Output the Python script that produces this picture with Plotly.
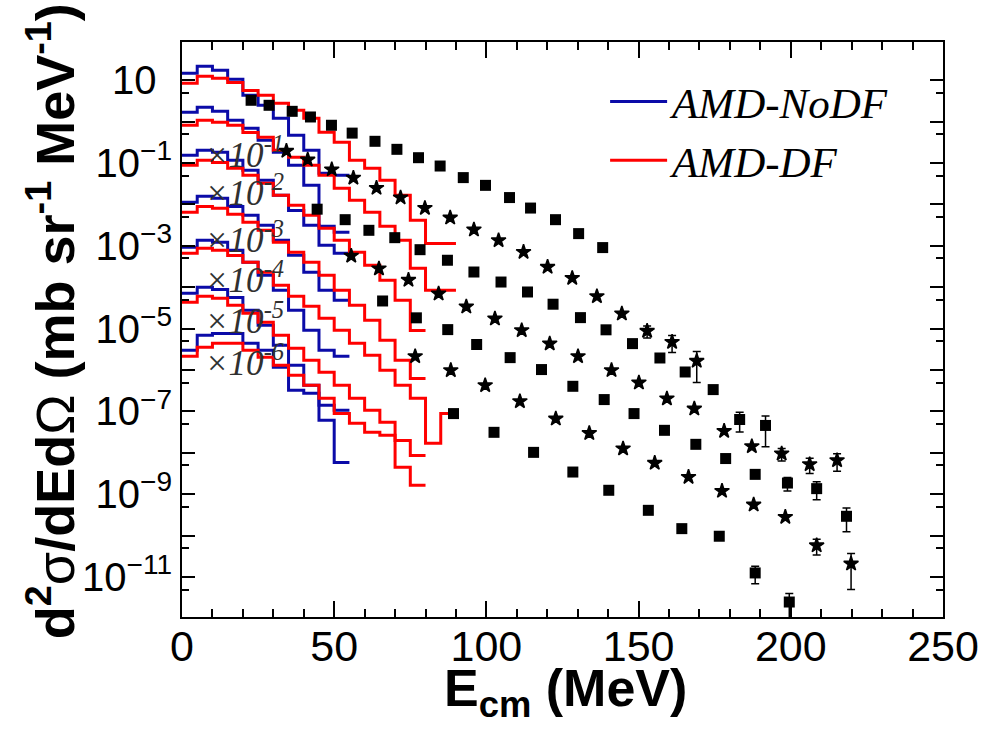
import plotly.graph_objects as go

# ---------------- data ----------------
bin_width = 5.0  # MeV, AMD histograms
scale_exp = [0, -1, -2, -3, -4, -5, -6]

# experimental points (unscaled values), x in MeV
exp_x_1 = [22.7, 28.6, 36.2, 42.2, 49.1, 55.9, 63.4, 70.6, 77.7, 84.8, 92.4, 99.7, 107.6, 114.5, 122.7, 130.3, 138.2]
exp_y_1 = [3.29, 2.49, 1.78, 1.30, 0.82, 0.53, 0.336, 0.215, 0.135, 0.085, 0.0446, 0.0290, 0.0147, 0.0082, 0.0043, 0.00198, 9.1e-4]
exp_e_1 = [0] * 17

exp_x_2 = [34.3, 41.3, 49.2, 56.3, 63.9, 71.8, 79.8, 88.1, 95.9, 104.0, 112.2, 120.1, 128.2, 136.3, 144.5, 152.8, 161.0, 169.1]
exp_y_2 = [1.96, 1.21, 0.70, 0.44, 0.25, 0.147, 0.082, 0.048, 0.0247, 0.0136, 0.0071, 0.0031, 0.00167, 6.05e-4, 2.31e-4, 8.8e-5, 4.76e-5, 1.66e-5]
exp_e_2 = [0] * 15 + [2.8e-5, 2.1e-5, 1.16e-5]

exp_x_3 = [44.4, 53.6, 61.4, 69.9, 78.2, 87.2, 95.9, 104.8, 113.5, 121.9, 130.9, 139.3, 148.0, 157.0, 165.3, 174.5, 183.2, 191.7]
exp_y_3 = [0.77, 0.43, 0.238, 0.158, 0.081, 0.045, 0.0234, 0.0134, 0.0077, 0.0039, 0.00185, 9.4e-4, 4.36e-4, 1.96e-4, 9.0e-5, 3.38e-5, 6.4e-6, 4.6e-6]
exp_e_3 = [0] * 16 + [3.2e-6, 3.2e-6]

exp_x_4 = [55.6, 64.7, 74.4, 84.3, 93.4, 102.8, 111.6, 120.8, 130.1, 141.1, 150.1, 159.3, 168.3, 178.1, 187.2, 197.0, 206.2, 215.2]
exp_y_4 = [0.575, 0.283, 0.150, 0.0703, 0.0341, 0.0175, 0.00914, 0.00436, 0.00215, 9.9e-4, 4.98e-4, 2.05e-4, 1.17e-4, 3.37e-5, 1.44e-5, 9.6e-6, 5.3e-6, 6.6e-6]
exp_e_4 = [0] * 15 + [3.2e-6, 2.1e-6, 3.0e-6]

exp_x_5 = [65.9, 77.0, 87.3, 96.8, 107.8, 118.1, 128.4, 138.7, 148.5, 158.5, 168.8, 178.6, 188.3, 198.9, 208.5, 218.3]
exp_y_5 = [0.467, 0.183, 0.095, 0.0415, 0.0200, 0.0103, 0.00406, 0.00194, 8.9e-4, 3.51e-4, 1.61e-4, 7.3e-5, 3.03e-5, 1.87e-5, 1.37e-5, 2.94e-6]
exp_e_5 = [0] * 13 + [6.7e-6, 6.3e-6, 1.7e-6]

exp_x_6 = [76.6, 88.3, 99.6, 111.0, 122.8, 133.8, 144.9, 155.3, 166.4, 177.4, 187.8, 198.2, 208.5, 219.8]
exp_y_6 = [0.215, 0.0989, 0.0429, 0.0176, 0.0067, 0.0030, 0.00127, 5.7e-4, 2.61e-4, 1.20e-4, 5.6e-5, 2.82e-5, 5.8e-6, 2.1e-6]
exp_e_6 = [0] * 12 + [2.4e-6, 1.6e-6]

exp_x_7 = [89.2, 102.5, 115.5, 128.4, 140.2, 153.2, 164.2, 176.5, 188.3, 199.5]
exp_y_7 = [0.089, 0.0314, 0.0103, 0.00345, 0.00125, 4.1e-4, 1.48e-4, 9.7e-5, 1.26e-5, 2.5e-6]
exp_e_7 = [0] * 8 + [5.7e-6, 1.5e-6]

# AMD-NoDF histograms (unscaled), 5 MeV bins from 0
nodf_1 = [14.8, 21.8, 17.4, 10.6, 4.34, 2.49, 1.21, 0.47, 0.204, 0.057, 0.051]
nodf_2 = [16.9, 22.3, 17.8, 10.8, 6.9, 3.55, 1.82, 0.885, 0.290, 0.0297, 0.0213]
nodf_3 = [15.4, 20.4, 18.2, 11.7, 6.7, 3.84, 1.67, 0.72, 0.314, 0.103, 0.066]
nodf_4 = [11.3, 15.8, 14.1, 9.0, 5.5, 3.14, 1.36, 0.593, 0.230, 0.0845, 0.0485]
nodf_5 = [9.25, 13.6, 12.2, 7.8, 4.0, 1.95, 0.845, 0.278, 0.0914, 0.030, 0.0215]
nodf_6 = [7.2, 10.0, 8.9, 5.7, 2.78, 1.21, 0.397, 0.131, 0.0429, 0.0141, 0.0107]
nodf_7 = [3.0, 6.9, 7.7, 7.7, 4.44, 3.0, 1.17, 0.325, 0.275, 0.0612, 0.0059]

# AMD-DF histograms (unscaled), 5 MeV bins from 0
df_1 = [8.45, 12.5, 11.2, 8.9, 5.7, 4.34, 2.78, 1.88, 1.21, 0.555, 0.318, 0.117, 0.075, 0.0384, 0.0167, 0.00415, 0.00115, 0.00115]
df_2 = [8.2, 10.8, 9.7, 8.2, 5.5, 4.2, 2.04, 1.38, 0.885, 0.507, 0.246, 0.126, 0.065, 0.0297, 0.0136, 0.00288, 8.45e-4, 8.45e-4]
df_3 = [8.85, 11.7, 10.4, 7.5, 5.1, 3.25, 1.67, 0.955, 0.548, 0.266, 0.136, 0.070, 0.034, 0.0148, 0.00485, 9.1e-4]
df_4 = [6.5, 9.0, 8.1, 5.8, 3.7, 2.38, 1.22, 0.70, 0.402, 0.195, 0.0845, 0.0367, 0.0160, 0.00524, 0.00172, 6.3e-4]
df_5 = [6.6, 8.75, 7.8, 5.9, 4.0, 2.30, 1.12, 0.607, 0.348, 0.178, 0.0914, 0.0444, 0.0228, 0.0099, 0.00429, 0.00208, 1.70e-4, 9.0e-4]
df_6 = [4.34, 6.1, 5.4, 3.67, 2.35, 1.43, 0.69, 0.336, 0.172, 0.0885, 0.0429, 0.0208, 0.0107, 0.0055, 0.0020, 8.7e-4]
df_7 = [2.15, 3.55, 4.44, 4.44, 3.0, 2.04, 1.31, 0.748, 0.429, 0.208, 0.090, 0.052, 0.0314, 0.0266, 0.00449, 0.00165]

exp_x = [exp_x_1, exp_x_2, exp_x_3, exp_x_4, exp_x_5, exp_x_6, exp_x_7]
exp_y = [exp_y_1, exp_y_2, exp_y_3, exp_y_4, exp_y_5, exp_y_6, exp_y_7]
exp_e = [exp_e_1, exp_e_2, exp_e_3, exp_e_4, exp_e_5, exp_e_6, exp_e_7]
nodf = [nodf_1, nodf_2, nodf_3, nodf_4, nodf_5, nodf_6, nodf_7]
df = [df_1, df_2, df_3, df_4, df_5, df_6, df_7]
exp_symbol = ["square", "star", "square", "star", "square", "star", "square"]

# label positions (pixel rows of the "x10^n" texts)
label_rows = [None, 152, 190, 237, 277, 318, 360]

# ---------------- figure ----------------
W, H = 991, 741
L_M, R_M, T_M, B_M = 182, 41, 42, 124
BLUE = "#0b0ba8"
RED = "#ff0000"

fig = go.Figure()


def hist_trace(vals, s, color, name, show):
    xs = [i * bin_width for i in range(len(vals) + 1)]
    ys = [v * s for v in vals] + [vals[-1] * s]
    return go.Scatter(x=xs, y=ys, mode="lines", name=name, showlegend=show,
                      line=dict(color=color, width=3, shape="hv"))


for k in range(7):
    s = 10.0 ** scale_exp[k]
    fig.add_trace(hist_trace(nodf[k], s, BLUE, "AMD-NoDF", k == 0))
    fig.add_trace(hist_trace(df[k], s, RED, "AMD-DF", k == 0))

for k in range(7):
    s = 10.0 ** scale_exp[k]
    ys = [v * s for v in exp_y[k]]
    es = [e * s for e in exp_e[k]]
    sym = exp_symbol[k]
    fig.add_trace(go.Scatter(
        x=exp_x[k], y=ys, mode="markers", showlegend=False, name="data",
        marker=dict(symbol=sym, size=11, color="black",
                    line=dict(width=0 if sym == "square" else 1.5, color="black")),
        error_y=dict(type="data", array=es, visible=True, color="black",
                     thickness=1.5, width=4)))

plot_h = H - T_M - B_M


def py_to_paper(py):
    return 1 - (py - T_M) / plot_h


def px_to_paper(px):
    return (px - L_M) / (W - L_M - R_M)


annotations = []
for k in range(1, 7):
    annotations.append(dict(
        x=px_to_paper(203), y=py_to_paper(label_rows[k]), xref="paper", yref="paper",
        xanchor="left", yanchor="middle", showarrow=False,
        text="×10<sup>-%d</sup>" % k,
        font=dict(family="Liberation Serif", size=35, color="#303030", style="italic")))

annotations.append(dict(
    x=px_to_paper(444), y=py_to_paper(692), xref="paper", yref="paper", xanchor="left",
    yanchor="middle", showarrow=False, text="<b>E</b><sub><b>cm</b></sub><b> (MeV)</b>",
    font=dict(family="Liberation Sans", size=52, color="black")))
annotations.append(dict(
    x=px_to_paper(50), y=py_to_paper(641), xref="paper", yref="paper", xanchor="center",
    yanchor="bottom", showarrow=False, textangle=-90,
    text="<b>d</b><sup><b>2</b></sup>σ<b>/dEd</b>Ω<b> (mb sr</b><sup><b>-1</b></sup><b> MeV</b><sup><b>-1</b></sup><b>)</b>",
    font=dict(family="Liberation Sans", size=54, color="black")))

ytick_exps = list(range(-11, 2))
ytick_vals = [10.0 ** e for e in ytick_exps]
ytick_text = []
for e in ytick_exps:
    if e == 1:
        ytick_text.append("10<sup>\u2007</sup>")
    elif e % 2 != 0:
        ytick_text.append("10<sup>\u2212%d</sup>" % (-e))
    else:
        ytick_text.append(" ")
yminor_vals = [5 * 10.0 ** e for e in range(-12, 1)]

fig.update_layout(
    width=W, height=H,
    margin=dict(l=L_M, r=R_M, t=T_M, b=B_M),
    paper_bgcolor="white", plot_bgcolor="white",
    font=dict(family="Liberation Sans", color="black"),
    annotations=annotations,
    legend=dict(x=px_to_paper(609), y=py_to_paper(67), xanchor="left", yanchor="top",
                bgcolor="rgba(0,0,0,0)", itemwidth=57,
                font=dict(family="Liberation Serif", size=43, style="italic", color="black")),
    xaxis=dict(range=[0, 250], dtick=50, tick0=0, ticks="inside", ticklen=16, tickwidth=1.5,
               tickcolor="black", showline=True, linecolor="black", linewidth=2, mirror="ticks",
               showgrid=False, zeroline=False, ticklabelstandoff=-10,
               tickfont=dict(family="Liberation Sans", size=43, color="black"),
               minor=dict(dtick=10, ticks="inside", ticklen=8, tickwidth=1.5, tickcolor="black",
                          showgrid=False)),
    yaxis=dict(type="log", range=[-11.964, 1.925], tickmode="array", tickvals=ytick_vals,
               ticktext=ytick_text, ticks="inside", ticklen=13, tickwidth=1.5, tickcolor="black",
               showline=True, linecolor="black", linewidth=2, mirror="ticks",
               showgrid=False, zeroline=False,
               tickfont=dict(family="Liberation Sans", size=40, color="black"),
               minor=dict(tickmode="array", tickvals=yminor_vals, ticks="inside", ticklen=7,
                          tickwidth=1.5, tickcolor="black", showgrid=False)),
)

fig.write_html("out.html")
